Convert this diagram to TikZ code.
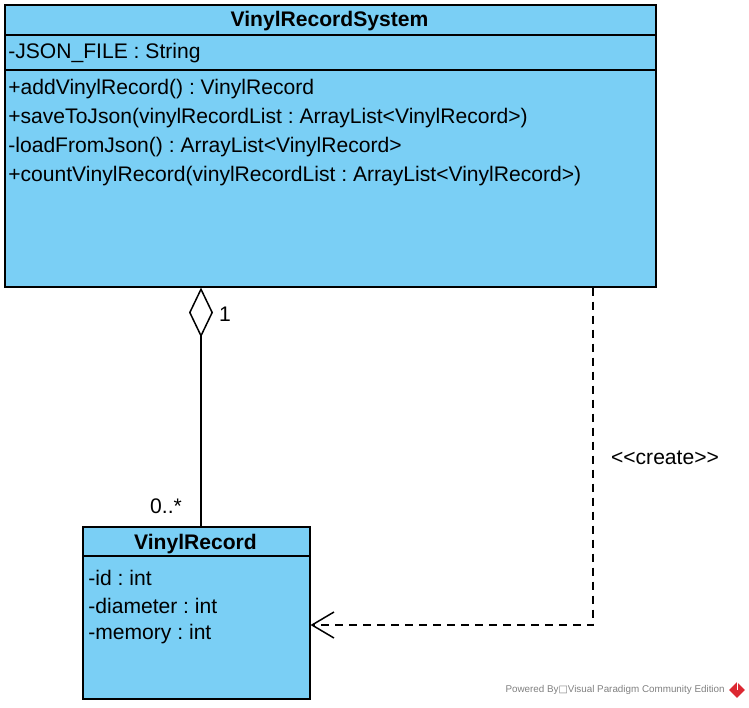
\documentclass[tikz,border=0pt]{standalone}
\usepackage{fontspec}
\setmainfont{Liberation Sans}
\newfontfamily\symfont{DejaVu Sans}
\usetikzlibrary{arrows.meta}
\frenchspacing
\definecolor{classblue}{RGB}{122,207,245}
\definecolor{markgray}{RGB}{128,128,128}
\definecolor{logored}{RGB}{220,40,50}
\tikzset{
  classbox/.style={draw, line width=0.03cm, fill=classblue, inner sep=0, anchor=north west},
  classname/.style={inner sep=0, font=\fontsize{12}{14}\selectfont\bfseries},
  member/.style={anchor=west, inner sep=0, font=\fontsize{12}{14}\selectfont},
  rolelabel/.style={inner sep=0, font=\fontsize{12}{14}\selectfont},
  aggr/.style={line width=0.03cm, {Diamond[open, length=1.0cm, width=0.48cm, line width=0.03cm]}-},
  depend/.style={line width=0.03cm, dash pattern=on 0.16cm off 0.12cm, -{Straight Barb[length=0.44cm, width=0.52cm, line width=0.03cm]}}
}
\begin{document}
\begin{tikzpicture}
            \useasboundingbox (0,0) rectangle (14.98,-14.14);
            
            % Class VinylRecordSystem
            \node [classbox, minimum width=13.02cm, minimum height=5.64cm] (sys) at (0.08,-0.08) {};%
            \draw [line width=0.03cm] (0.08,-0.70) -- (13.10,-0.70);%
            \draw [line width=0.03cm] (0.08,-1.40) -- (13.10,-1.40);%
            \node [classname] (sysname) at (6.59,-0.43) {VinylRecordSystem};%
            \node [member] (sysattr) at (0.16,-1.07) {-JSON\_FILE : String};%
            \node [member] (sysopa) at (0.16,-1.79) {+addVinylRecord() : VinylRecord};%
            \node [member] (sysopb) at (0.16,-2.37) {+saveToJson(vinylRecordList : ArrayList<VinylRecord>)};%
            \node [member] (sysopc) at (0.16,-2.95) {-loadFromJson() : ArrayList<VinylRecord>};%
            \node [member] (sysopd) at (0.16,-3.53) {+countVinylRecord(vinylRecordList : ArrayList<VinylRecord>)};%
            
            % Class VinylRecord
            \node [classbox, minimum width=4.54cm, minimum height=3.44cm] (vinyl) at (1.64,-10.52) {};%
            \draw [line width=0.03cm] (1.64,-11.12) -- (6.18,-11.12);%
            \node [classname] (vinylname) at (3.91,-10.89) {VinylRecord};%
            \node [member] (vinylid) at (1.76,-11.55) {-id : int};%
            \node [member] (vinyldiam) at (1.76,-12.11) {-diameter : int};%
            \node [member] (vinylmem) at (1.76,-12.69) {-memory : int};%
            
            % Aggregation
            \coordinate (agg) at (4.02,0);%
            \draw [aggr] (sys.south -| agg) -- (vinyl.north -| agg);%
            \node [rolelabel] (aggone) at (4.50,-6.28) {1};%
            \node [rolelabel] (aggmany) at (3.32,-10.12) {0..*};%
            
            % Dependency create
            \coordinate (crbend) at (11.86,-12.50);%
            \draw [depend] (sys.south -| crbend) -- (crbend) -- (vinyl.east |- crbend);%
            \node [rolelabel] (crlabel) at (13.30,-9.16) {<{}<create>{}>};%
            
            % Watermark
            \node [anchor=east, inner sep=0, text=markgray, font=\fontsize{5.6}{7}\selectfont] (mark) at (14.50,-13.80) {Powered By{\symfont □}Visual Paradigm Community Edition};%
            \node [fill=logored, draw=none, inner sep=0, rotate=45, minimum width=0.22cm, minimum height=0.22cm] (logo) at (14.74,-13.80) {};%
            \draw [white, line width=0.02cm] (logo.center) -- (logo.north east);%
        \end{tikzpicture}
\end{document}
